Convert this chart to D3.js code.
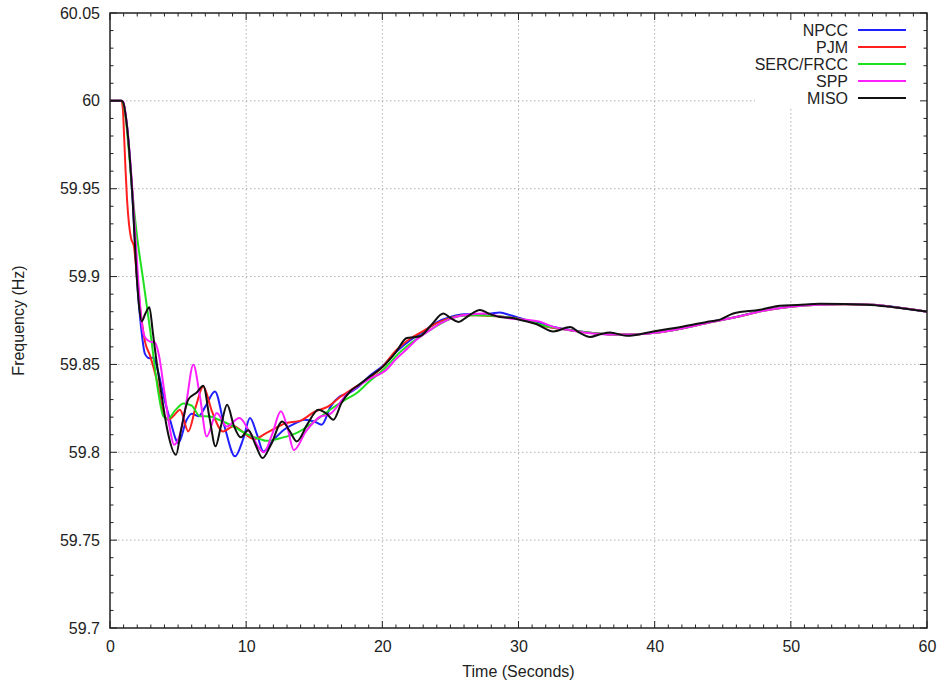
<!DOCTYPE html>
<html><head><meta charset="utf-8">
<script src="https://cdn.jsdelivr.net/npm/d3@7/dist/d3.min.js"></script>
<style>body{margin:0;background:#fff}svg{display:block}text{font-family:"Liberation Sans",Arial,Helvetica,sans-serif}</style>
</head><body><svg id="c" width="942" height="686"></svg>
<script>
const xTicks=[0,10,20,30,40,50,60];
const yTicks=[59.7,59.75,59.8,59.85,59.9,59.95,60,60.05];
const yTickLabels=["59.7","59.75","59.8","59.85","59.9","59.95","60","60.05"];
const seriesNames=["NPCC","PJM","SERC/FRCC","SPP","MISO"];
const seriesColors=["#1f1fff","#ff1f1f","#1fe01f","#ff1fff","#111111"];

const npcc=[[0,60],[0.82,60],[0.95,59.9994],[1.22,59.9875],[1.62,59.949],[1.98,59.899],[2.3,59.870],[2.57,59.856],[2.9,59.8535],[3.2,59.854],[3.5,59.847],[4.0,59.830],[4.41,59.8185],[5.02,59.8053],[5.63,59.8185],[6.0,59.822],[6.5,59.8205],[7.0,59.826],[7.71,59.8346],[8.4,59.815],[9.18,59.7977],[9.8,59.808],[10.28,59.8195],[10.8,59.810],[11.26,59.8005],[12.0,59.807],[12.8,59.813],[13.6,59.8165],[14.3,59.8185],[15.0,59.8175],[15.55,59.8157],[16.2,59.826],[16.89,59.8318],[17.5,59.8335],[18.2,59.837],[19.0,59.843],[20.0,59.849],[21.0,59.857],[22.0,59.8635],[23.0,59.8685],[24.0,59.874],[25.0,59.877],[26.0,59.8785],[27.0,59.8785],[28.0,59.879],[28.64,59.8795],[29.4,59.878],[30.5,59.8755],[31.58,59.8735],[32.5,59.8715],[33.5,59.870],[35.25,59.868],[37,59.867],[38.5,59.867],[40,59.868],[42,59.8705],[44,59.874],[46,59.877],[48,59.8808],[50,59.883],[52,59.8842],[54,59.8844],[56,59.884],[58,59.8823],[60,59.880]];
const pjm=[[0,60],[0.84,60],[0.95,59.995],[1.03,59.981],[1.14,59.961],[1.25,59.944],[1.4,59.9295],[1.54,59.922],[1.76,59.917],[1.98,59.900],[2.28,59.878],[2.57,59.863],[2.94,59.855],[3.43,59.8413],[3.92,59.8223],[4.28,59.8185],[4.7,59.821],[5.14,59.8242],[5.75,59.8119],[6.3,59.826],[6.85,59.8375],[7.5,59.823],[8.3,59.8119],[9.1,59.815],[9.6,59.8125],[10.6,59.8075],[11.5,59.811],[12.9,59.8165],[14.0,59.818],[15.0,59.823],[16.0,59.826],[17.0,59.832],[18.1,59.8375],[19,59.842],[20,59.8485],[21,59.858],[22,59.8645],[23,59.869],[24,59.8735],[25,59.8765],[26,59.878],[27,59.878],[28,59.8775],[29,59.877],[30,59.876],[31,59.874],[32,59.8715],[33.5,59.8698],[35.25,59.868],[37,59.867],[38.5,59.867],[40,59.868],[42,59.8705],[44,59.8738],[46,59.877],[48,59.8805],[50,59.8828],[52,59.884],[54,59.8843],[56,59.8839],[58,59.8822],[60,59.880]];
const serc=[[0,60],[0.85,60],[1.0,59.998],[1.17,59.989],[1.4,59.97],[1.62,59.950],[2.0,59.922],[2.42,59.899],[2.94,59.870],[3.55,59.834],[3.92,59.8205],[4.25,59.819],[4.8,59.824],[5.4,59.8278],[6.0,59.8265],[6.61,59.8205],[7.34,59.8204],[8.0,59.8185],[9.06,59.8147],[10.0,59.8105],[11.02,59.8075],[11.5,59.8065],[12.5,59.808],[13.71,59.811],[15,59.8175],[16.16,59.8242],[17.2,59.8295],[18.12,59.8337],[19,59.840],[20.07,59.847],[21.3,59.857],[22.5,59.8645],[23.74,59.8707],[24.7,59.875],[25.7,59.8775],[26.7,59.878],[27.66,59.8778],[29,59.877],[30,59.8758],[31,59.874],[32,59.8718],[33.5,59.8698],[35.25,59.868],[37,59.867],[38.5,59.867],[40,59.868],[42,59.8705],[44,59.8738],[46,59.877],[48,59.8805],[50,59.8828],[52,59.884],[54,59.8843],[56,59.8839],[58,59.8822],[60,59.880]];
const spp=[[0,60],[0.83,60],[0.97,59.9994],[1.25,59.986],[1.65,59.949],[2.06,59.8993],[2.33,59.8735],[2.6,59.865],[2.94,59.863],[3.3,59.8625],[3.6,59.855],[4.0,59.834],[4.41,59.8129],[4.7,59.8043],[5.2,59.812],[5.6,59.828],[6.12,59.8498],[6.6,59.832],[7.1,59.809],[7.84,59.8223],[8.57,59.8147],[9.5,59.8195],[10.3,59.811],[11.3,59.800],[11.9,59.810],[12.55,59.8233],[13.0,59.815],[13.5,59.8012],[14.4,59.812],[15.5,59.8205],[16.1,59.8215],[17.4,59.833],[18.1,59.837],[19,59.8415],[20.3,59.847],[21.0,59.853],[21.9,59.8595],[22.5,59.864],[23.4,59.869],[24.3,59.8735],[25.2,59.8765],[26.5,59.8785],[27.5,59.879],[28.5,59.8775],[29.5,59.876],[30.5,59.8755],[31.5,59.8745],[32.5,59.8715],[33.5,59.8698],[35.25,59.8678],[37,59.867],[38.5,59.867],[40,59.868],[42,59.8705],[44,59.8738],[46,59.877],[48,59.8805],[50,59.8828],[52,59.884],[54,59.8843],[56,59.8839],[58,59.8822],[60,59.880]];
const miso=[[0,60],[0.8,60],[0.95,59.9994],[1.22,59.9875],[1.62,59.949],[1.98,59.898],[2.15,59.882],[2.33,59.8745],[2.6,59.879],[2.89,59.8826],[3.15,59.868],[3.43,59.851],[3.8,59.832],[4.16,59.8147],[4.85,59.7986],[5.2,59.812],[5.75,59.83],[6.37,59.834],[6.85,59.8378],[7.3,59.82],[7.75,59.8034],[8.15,59.815],[8.6,59.827],[9.1,59.815],[9.6,59.8085],[10.16,59.8125],[10.7,59.804],[11.2,59.7967],[11.8,59.804],[12.65,59.8175],[13.2,59.812],[13.71,59.8062],[14.5,59.816],[15.3,59.8242],[15.9,59.822],[16.4,59.8185],[17.0,59.828],[17.63,59.8346],[18.3,59.8385],[19.09,59.8432],[20.07,59.8489],[21.0,59.857],[21.79,59.865],[22.3,59.8655],[22.77,59.866],[23.6,59.8725],[24.48,59.879],[25.0,59.8765],[25.6,59.8742],[26.3,59.8775],[27.17,59.881],[27.8,59.879],[28.64,59.877],[29.4,59.8765],[30.1,59.8754],[31.3,59.873],[32.56,59.8688],[33.78,59.8713],[34.5,59.868],[35.25,59.8656],[36.0,59.8672],[36.72,59.8682],[37.94,59.8663],[39.9,59.8688],[42.1,59.8716],[43.82,59.8742],[44.8,59.8755],[45.77,59.879],[47.73,59.8811],[49.2,59.8834],[50.5,59.8838],[52.14,59.8845],[55.57,59.884],[57.52,59.8826],[60,59.8801]];
const seriesData=[npcc,pjm,serc,spp,miso];

const L=110,R=927,T=13,B=628;
const FS=16;
const svg=d3.select("#c");
const x=d3.scaleLinear().domain([0,60]).range([L,R]);
const y=d3.scaleLinear().domain([59.7,60.05]).range([B,T]);

// grid
const g=svg.append("g");
xTicks.slice(1,-1).forEach(t=>g.append("line").attr("x1",x(t)).attr("x2",x(t)).attr("y1",T).attr("y2",B).attr("stroke","#b0b0b0").attr("stroke-width",1).attr("stroke-dasharray","1.5,2.5"));
yTicks.slice(1,-1).forEach(t=>g.append("line").attr("x1",L).attr("x2",R).attr("y1",y(t)).attr("y2",y(t)).attr("stroke","#b0b0b0").attr("stroke-width",1).attr("stroke-dasharray","1.5,2.5"));

// legend background
svg.append("rect").attr("x",755).attr("y",T+1).attr("width",R-755-1).attr("height",93).attr("fill","#fff");

// ticks inward on all sides
const tk=svg.append("g").attr("stroke","#222").attr("stroke-width",1);
d3.range(0,61,1).forEach(t=>{const len=(t%10===0)?7:3.5;
  tk.append("line").attr("x1",x(t)).attr("x2",x(t)).attr("y1",B).attr("y2",B-len);
  tk.append("line").attr("x1",x(t)).attr("x2",x(t)).attr("y1",T).attr("y2",T+len);});
d3.range(0,36,1).forEach(i=>{const v=59.7+i*0.01;const len=(i%5===0)?7:3.5;
  tk.append("line").attr("x1",L).attr("x2",L+len).attr("y1",y(v)).attr("y2",y(v));
  tk.append("line").attr("x1",R).attr("x2",R-len).attr("y1",y(v)).attr("y2",y(v));});

// axis labels
const xa=d3.axisBottom(x).tickValues(xTicks).tickSize(0).tickPadding(13).tickFormat(d3.format("d"));
const xg=svg.append("g").attr("transform",`translate(0,${B})`).call(xa);
xg.select(".domain").remove();
xg.selectAll("text").attr("font-size",FS).attr("fill","#222").style("font-family",'"Liberation Sans",Arial,sans-serif');
const ya=d3.axisLeft(y).tickValues(yTicks).tickSize(0).tickPadding(10).tickFormat((d,i)=>yTickLabels[i]);
const yg=svg.append("g").attr("transform",`translate(${L},0)`).call(ya);
yg.select(".domain").remove();
yg.selectAll("text").attr("font-size",FS).attr("fill","#222").style("font-family",'"Liberation Sans",Arial,sans-serif');

svg.append("text").attr("x",(L+R)/2).attr("y",677).attr("text-anchor","middle").attr("font-size",FS).attr("fill","#222").text("Time (Seconds)");
svg.append("text").attr("transform",`translate(24,${(T+B)/2}) rotate(-90)`).attr("text-anchor","middle").attr("font-size",FS).attr("fill","#222").text("Frequency (Hz)");

// lines
svg.append("defs").append("clipPath").attr("id","clip").append("rect").attr("x",L).attr("y",T).attr("width",R-L).attr("height",B-T);
const line=d3.line().x(d=>x(d[0])).y(d=>y(d[1])).curve(d3.curveMonotoneX);
const lg=svg.append("g").attr("clip-path","url(#clip)");
seriesData.forEach((s,i)=>lg.append("path").attr("d",line(s)).attr("fill","none").attr("stroke",seriesColors[i]).attr("stroke-width",2).attr("stroke-linejoin","round"));

// legend
seriesNames.forEach((n,i)=>{const yy=30+i*17;
  svg.append("text").attr("x",848).attr("y",yy).attr("dy","0.35em").attr("text-anchor","end").attr("font-size",FS).attr("fill","#222").text(n);
  svg.append("line").attr("x1",858).attr("x2",906).attr("y1",yy).attr("y2",yy).attr("stroke",seriesColors[i]).attr("stroke-width",2);});

// frame
svg.append("rect").attr("x",L).attr("y",T).attr("width",R-L).attr("height",B-T).attr("fill","none").attr("stroke","#222").attr("stroke-width",1.5);
</script></body></html>
